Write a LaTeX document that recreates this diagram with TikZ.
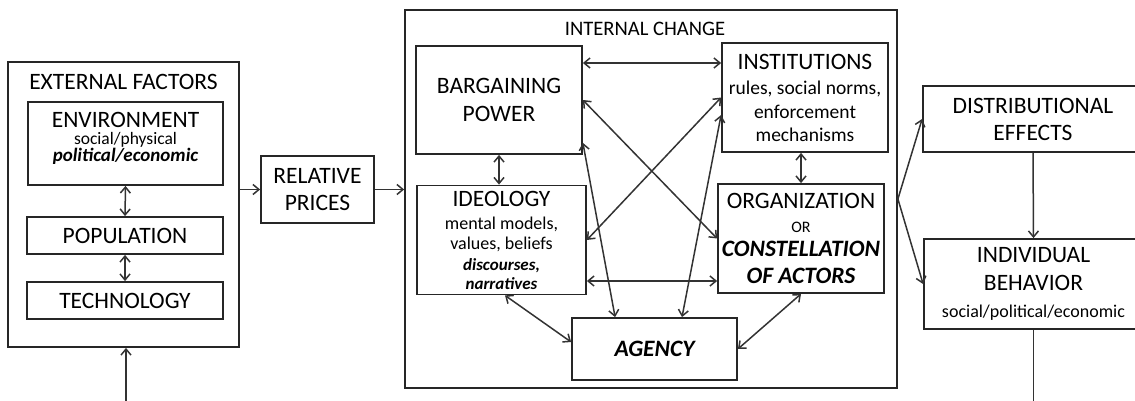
\documentclass[tikz,border=0pt]{standalone}
\usepackage{fontspec}
\setmainfont{Carlito}
\usetikzlibrary{arrows.meta}
\newcommand{\headsize}{\fontsize{23.5}{27}\selectfont}
\newcommand{\notesize}{\fontsize{18}{20}\selectfont}
\newcommand{\tinysize}{\fontsize{16}{18}\selectfont}
\tikzset{
	box/.style={draw=black!85,line width=1.8pt,inner sep=0pt,align=center,font={\headsize\lineskiplimit=-30pt}},
	link/.style={line width=1.5pt,draw=black!80},
	>={Straight Barb[length=6pt,width=10pt]}
}
\begin{document}
\begin{tikzpicture}[x=1pt,y=-1pt]
				\useasboundingbox (0,0) rectangle (1135,401);
				% external factors
				\node[box,minimum width=231pt,minimum height=285pt] (ext) at (123.5,204.5) {};
				\node[font=\headsize] (extlabel) at (123.5,82) {EXTERNAL FACTORS};
				\node[box,minimum width=195pt,minimum height=83pt] (env) at (125.5,143.5) {ENVIRONMENT\\[-10pt]{\fontsize{17.5}{18}\selectfont social/physical}\\[-10pt]{\fontsize{19}{20}\selectfont\bfseries\itshape political/economic}\\[-14pt]\mbox{}};
				\node[box,minimum width=196pt,minimum height=37pt] (pop) at (125,235.5) {POPULATION};
				\node[box,minimum width=196pt,minimum height=37pt] (tech) at (125,300.5) {TECHNOLOGY};
				\node[box,minimum width=113pt,minimum height=67pt] (rp) at (317.5,189.5) {RELATIVE\\PRICES};
				% internal change
				\node[box,minimum width=492pt,minimum height=378pt] (ic) at (651,199) {};
				\node[font=\fontsize{20.6}{24}\selectfont] (iclabel) at (645,29) {INTERNAL CHANGE};
				\node[box,minimum width=166pt,minimum height=108pt] (bp) at (499,100) {BARGAINING\\[1pt]POWER};
				\node[box,minimum width=169pt,minimum height=109pt] (ide) at (501.5,240) {IDEOLOGY\\[-4pt]{\notesize mental models,}\\[-7pt]{\notesize values, beliefs}\\[-6pt]{\fontsize{17}{20}\selectfont\bfseries\itshape discourses,}\\[-8pt]{\fontsize{17}{20}\selectfont\bfseries\itshape narratives}};
				\node[box,minimum width=165pt,minimum height=62pt,font=\headsize\bfseries\itshape] (ag) at (654.5,349) {AGENCY};
				\node[box,minimum width=166pt,minimum height=109pt] (inst) at (805,97.5) {INSTITUTIONS\\[-2pt]{\fontsize{19.5}{22}\selectfont rules, social norms,}\\[-3pt]{\fontsize{19.5}{22}\selectfont enforcement}\\[-4pt]{\fontsize{19.5}{22}\selectfont mechanisms}};
				\node[box,minimum width=166pt,minimum height=109pt] (org) at (801,238.5) {ORGANIZATION\\[-3pt]{\tinysize OR}\\[-3pt]{\bfseries\itshape CONSTELLATION}\\{\bfseries\itshape OF ACTORS}};
				% outcomes
				\node[box,minimum width=220pt,minimum height=66pt] (de) at (1033,119) {DISTRIBUTIONAL\\EFFECTS};
				\node[box,minimum width=219pt,minimum height=90pt] (ib) at (1033.5,284) {INDIVIDUAL\\[1pt]BEHAVIOR\\[0pt]{\fontsize{18}{21}\selectfont social/political/economic}};
				% free ends
				\coordinate (feed) at (126,401);
				\coordinate (exit) at (1033.5,401);
				\coordinate (bpa) at ([yshift=37pt]bp.east);
				\coordinate (idea) at ([yshift=-41pt]ide.east);
				\coordinate (bpb) at ([yshift=12pt]bp.south east);
				\coordinate (aga) at ([xshift=44pt]ag.north west);
				\coordinate (insta) at ([yshift=-17.5pt]inst.west);
				\coordinate (agb) at ([xshift=27.5pt]ag.north);
				\coordinate (ideb) at ([xshift=3.5pt]ide.south);
				\coordinate (agc) at ([yshift=7pt]ag.west);
				% connectors
				\draw[link,<->] (env.south) to (pop.north);
				\draw[link,<->] (pop.south) to (tech.north);
				\draw[link,->] (feed) to (feed |- ext.south);
				\draw[link,->] (ext.east |- rp.west) to (rp.west);
				\draw[link,->] (rp.east) to (rp.east -| ic.west);
				\draw[link,<->] (bpa) to (bpa -| inst.west);
				\draw[link,<->] (bp.south) to (bp.south |- ide.north);
				\draw[link,<->] (org.north |- inst.south) to (org.north);
				\draw[link,<->] (idea) to (idea -| org.west);
				\draw[link,<->] (bp.east) to (org.west);
				\draw[link,<->] (ide.east) to (inst.west);
				\draw[link,<->] (bpb) to (aga);
				\draw[link,<->] (insta) to (agb);
				\draw[link,<->] (ideb) to (agc);
				\draw[link,<->] (org.south) to (ag.east);
				\draw[link,->] (ic.east) to (de.west);
				\draw[link,->] (ic.east) to (ib.west);
				\draw[link,->] (de.south) to (ib.north);
				\draw[link] (ib.south) to (exit);
			\end{tikzpicture}
\end{document}
